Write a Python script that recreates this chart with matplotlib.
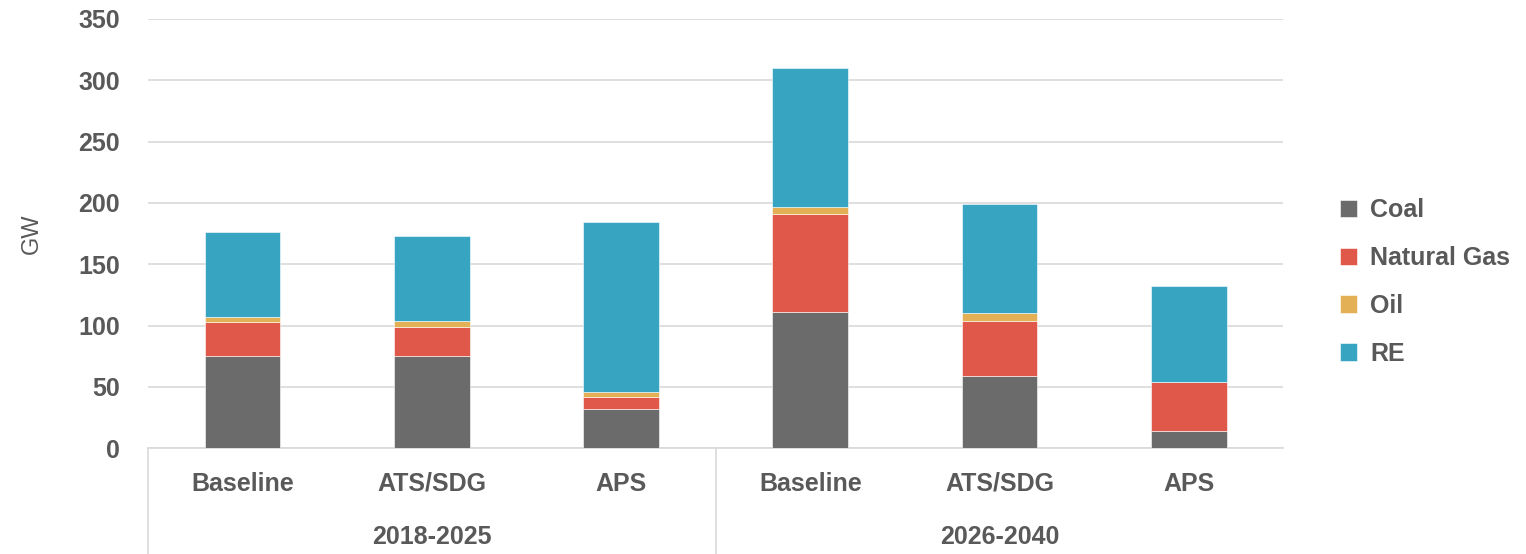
import matplotlib
matplotlib.use("Agg")
import matplotlib.pyplot as plt
import matplotlib.transforms as mtransforms
import numpy as np

scenarios = ["Baseline", "ATS/SDG", "APS", "Baseline", "ATS/SDG", "APS"]
periods = ["2018-2025", "2026-2040"]
coal = [75, 75, 32, 111, 59, 14]
gas = [28, 24, 10, 80, 45, 40]
oil = [4, 4.5, 3.5, 6, 6, 0]
re = [69, 69.5, 138.5, 113, 89, 78]

series = [("Coal", coal, "#6b6b6b"), ("Natural Gas", gas, "#e0584a"),
          ("Oil", oil, "#e3b055"), ("RE", re, "#37a4c2")]

plt.rcParams["font.family"] = ["Liberation Sans", "DejaVu Sans"]
txt = "#595959"

fig = plt.figure(figsize=(15.26, 5.54), dpi=100)
ax = fig.add_axes([0.097, 0.191, 0.744, 0.775])

x = np.arange(len(scenarios))
bottom = np.zeros(len(scenarios))
for name, vals, col in series:
    ax.bar(x, vals, 0.4, bottom=bottom, color=col, label=name,
           edgecolor="#ffffff", linewidth=0.4, zorder=3)
    bottom += np.array(vals)

ax.set_xlim(-0.5, 5.5)
ax.set_ylim(0, 350)
ax.set_yticks(np.arange(0, 351, 50))
ax.yaxis.grid(True, color="#d9d9d9", linewidth=1.2, zorder=0)
for s in ["top", "right", "left"]:
    ax.spines[s].set_visible(False)
ax.spines["bottom"].set_color("#d9d9d9")
ax.spines["bottom"].set_linewidth(1.2)
ax.tick_params(axis="y", length=0, pad=20, labelsize=18, labelcolor=txt)
for lab in ax.get_yticklabels():
    lab.set_fontweight("bold")

ax.set_xticks(x)
ax.set_xticklabels(scenarios, fontsize=18, fontweight="bold", color=txt)
ax.tick_params(axis="x", length=0, pad=17)

ax.set_ylabel("GW", fontsize=17, color=txt, labelpad=26)

trans = mtransforms.blended_transform_factory(ax.transData, ax.transAxes)
for i, p in enumerate(periods):
    ax.text(1 + 3 * i, -0.208, p, transform=trans, ha="center", va="center",
            fontsize=18, fontweight="bold", color=txt)
for xs in [-0.5, 2.5]:
    ax.plot([xs, xs], [0, -0.25], transform=trans, color="#d9d9d9",
            linewidth=1.2, clip_on=False)

leg = ax.legend(loc="center left", bbox_to_anchor=(1.03, 0.387), frameon=False,
                handlelength=0.7, handleheight=0.7, handletextpad=0.5,
                labelspacing=0.95, prop={"size": 18, "weight": "bold"})
for t in leg.get_texts():
    t.set_color(txt)

fig.savefig("out.png", dpi=100)
